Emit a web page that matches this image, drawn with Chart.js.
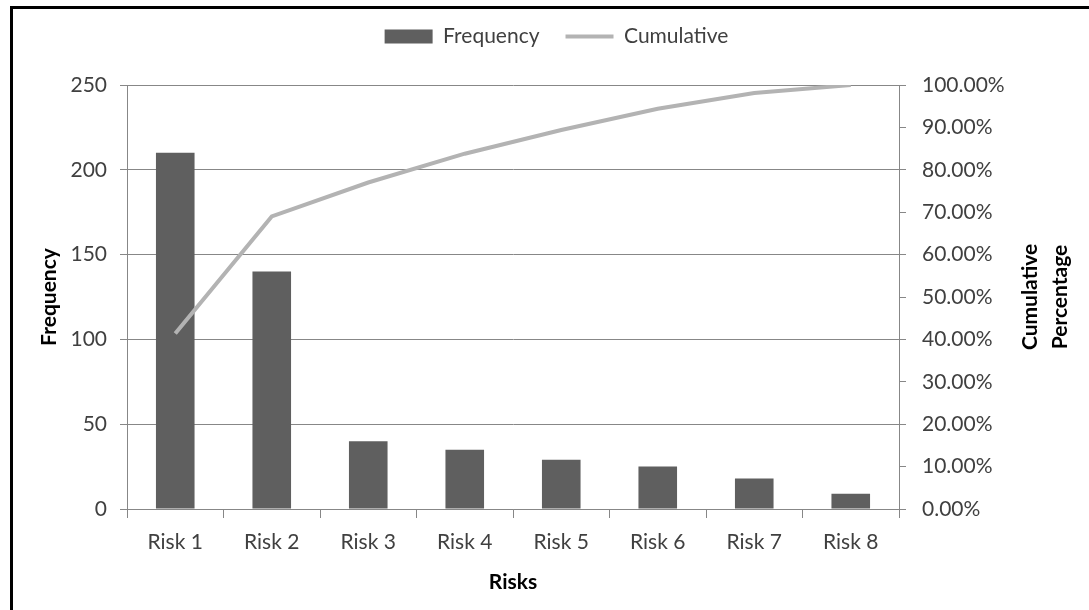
<!DOCTYPE html>
<html>
<head>
<meta charset="utf-8">
<script src="https://cdn.jsdelivr.net/npm/chart.js@4"></script>
<style>
    html, body { margin: 0; padding: 0; background: #fff; }
    #wrap { position: relative; width: 1089px; height: 610px; overflow: hidden; }
    #frame { position: absolute; left: 10px; top: 6px; width: 1200px; height: 700px; border-top: 3px solid #000; border-left: 3px solid #000; }
    canvas { position: absolute; left: 0; top: 0; }
</style>
</head>
<body>
<div id="wrap">
    <div id="frame"></div>
    <canvas id="pareto" width="1089" height="610"></canvas>
</div>
<script>
const categories = ['Risk 1', 'Risk 2', 'Risk 3', 'Risk 4', 'Risk 5', 'Risk 6', 'Risk 7', 'Risk 8'];
const frequency = [210, 140, 40, 35, 29, 25, 18, 9];
const cumulative = [41.4, 69.0, 77.0, 83.8, 89.4, 94.4, 98.1, 100];
const freqMax = 250, freqStep = 50;
const pctMax = 100, pctStep = 10;
const rightTitle = ['Cumulative', 'Percentage'];

const gridColor = '#878787';
const tickColor = '#404040';

// right axis title reads bottom-to-top like the left one, so draw it here
const sideTitle = {
    id: 'sideTitle',
    afterDraw(chart) {
        const { ctx, chartArea } = chart;
        const cy = (chartArea.top + chartArea.bottom) / 2;
        ctx.save();
        ctx.font = 'bold 21px Lato';
        ctx.fillStyle = '#000';
        ctx.textAlign = 'center';
        ctx.textBaseline = 'middle';
        rightTitle.forEach(function(t, i) {
            ctx.save();
            ctx.translate(chartArea.right + 131 + i * 30, cy);
            ctx.rotate(-Math.PI / 2);
            ctx.fillText(t, 0, 0);
            ctx.restore();
        });
        ctx.restore();
    }
};

function draw() {
    Chart.defaults.font.family = 'Lato';
    Chart.defaults.font.size = 21;
    const ctx = document.getElementById('pareto').getContext('2d');
    new Chart(ctx, {
        type: 'bar',
        data: {
            labels: categories,
            datasets: [
                {
                    type: 'bar',
                    label: 'Frequency',
                    data: frequency,
                    backgroundColor: '#5f5f5f',
                    borderWidth: 0,
                    barPercentage: 0.4,
                    categoryPercentage: 1,
                    xAxisID: 'x',
                    yAxisID: 'y',
                    order: 2
                },
                {
                    type: 'line',
                    label: 'Cumulative',
                    data: cumulative,
                    borderColor: '#b3b3b3',
                    backgroundColor: '#b3b3b3',
                    borderWidth: 4,
                    pointRadius: 0,
                    tension: 0,
                    fill: false,
                    xAxisID: 'x',
                    yAxisID: 'y1',
                    order: 1
                }
            ]
        },
        options: {
            responsive: false,
            animation: false,
            devicePixelRatio: 1,
            layout: { padding: { left: 24, right: 0, top: 0, bottom: 0 } },
            plugins: {
                tooltip: { enabled: false },
                legend: {
                    display: true,
                    position: 'top',
                    labels: {
                        color: tickColor,
                        usePointStyle: true,
                        pointStyleWidth: 48,
                        boxHeight: 14,
                        padding: 26,
                        generateLabels: function(chart) {
                            const items = Chart.defaults.plugins.legend.labels.generateLabels(chart);
                            items.forEach(function(it) {
                                it.pointStyle = it.datasetIndex === 0 ? 'rect' : 'line';
                            });
                            return items;
                        },
                        sort: function(a, b) { return a.datasetIndex - b.datasetIndex; }
                    }
                }
            },
            scales: {
                x: {
                    position: 'bottom',
                    offset: true,
                    grid: { offset: true, drawOnChartArea: false, tickLength: 9, color: gridColor },
                    border: { color: gridColor },
                    ticks: { color: tickColor, padding: 12 },
                    title: { display: true, text: 'Risks', color: '#000', font: { weight: 'bold' }, padding: { top: 0, bottom: 15 } },
                    afterFit: function(s) { s.height = 101; }
                },
                xTop: {
                    type: 'category',
                    position: 'top',
                    grid: { display: false },
                    border: { display: false },
                    ticks: { display: false },
                    afterFit: function(s) { s.height = 28; }
                },
                y: {
                    position: 'left',
                    min: 0,
                    max: freqMax,
                    ticks: { stepSize: freqStep, color: tickColor, padding: 13 },
                    grid: { color: gridColor, tickLength: 7 },
                    border: { color: gridColor },
                    title: { display: true, text: 'Frequency', color: '#000', font: { weight: 'bold' }, padding: { top: 13, bottom: 0 } },
                    afterFit: function(s) { s.width = 103; }
                },
                y1: {
                    position: 'right',
                    min: 0,
                    max: pctMax,
                    ticks: {
                        stepSize: pctStep,
                        color: tickColor,
                        padding: 16,
                        callback: function(value) { return value.toFixed(2) + '%'; }
                    },
                    grid: { drawOnChartArea: false, color: gridColor, tickLength: 7 },
                    border: { color: gridColor },
                    afterFit: function(s) { s.width = 190; }
                }
            }
        },
        plugins: [sideTitle]
    });
}

document.fonts.load('21px Lato').then(function() {
    return document.fonts.load('bold 21px Lato');
}).then(draw, draw);
</script>
</body>
</html>
